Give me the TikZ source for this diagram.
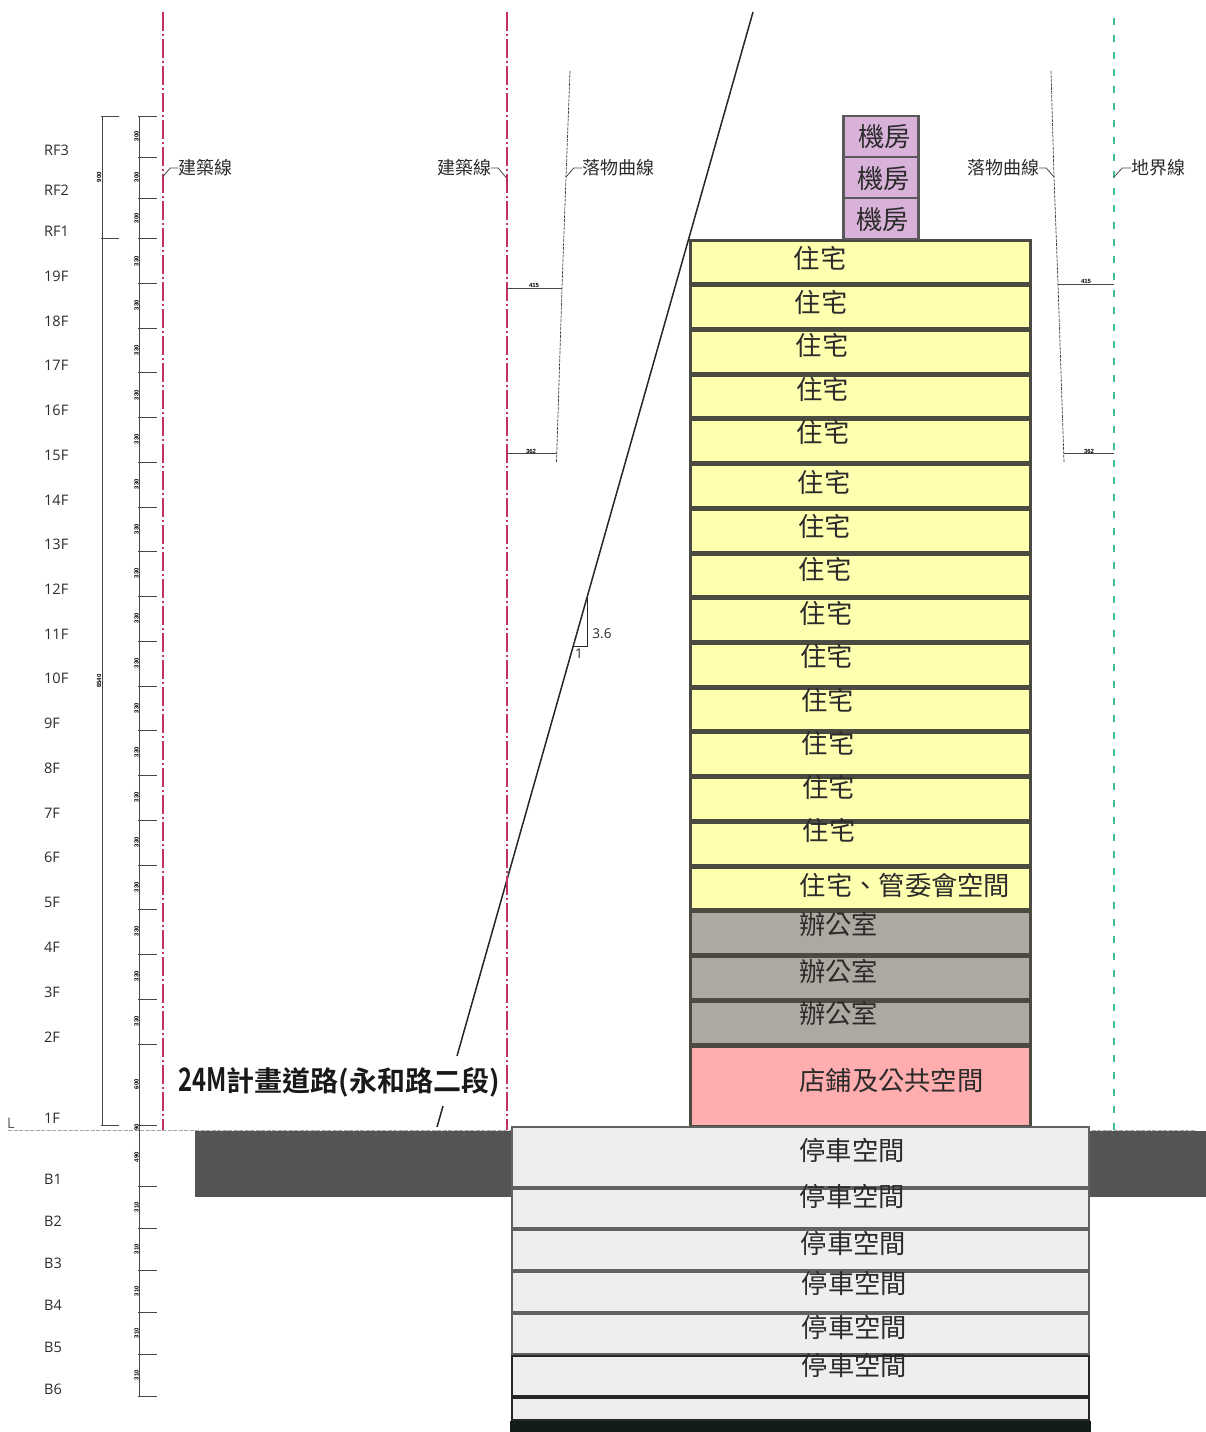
\documentclass[tikz,border=0pt]{standalone}
\usepackage{xcolor}
\usepackage{fontspec}
\usepackage{tikz}
\setmainfont{Open Sans}
\newfontfamily\cjk[BoldFont=Noto Sans CJK TC Bold]{Noto Sans CJK TC}
\newfontfamily\dimfont{Liberation Sans}
\definecolor{redline}{HTML}{C4305F}
\definecolor{greenline}{HTML}{3FBF92}
\definecolor{wallcol}{HTML}{4A4A40}
\definecolor{inkcol}{HTML}{2B2B2B}
\definecolor{yellowcol}{HTML}{FFFFB0}
\definecolor{purplecol}{HTML}{D8B2D8}
\definecolor{officecol}{HTML}{ADA9A0}
\definecolor{pinkcol}{HTML}{FFADAE}
\definecolor{parkcol}{HTML}{EEEEEE}
\definecolor{soilcol}{HTML}{545454}
\definecolor{slabcol}{HTML}{141C18}
\tikzset{
  band/.style = {rectangle, draw=wallcol, line width=3pt, inner sep=0pt, minimum width=340pt},
  roombox/.style = {rectangle, draw=black!65, line width=2.4pt, fill=purplecol, inner sep=0pt, minimum width=75pt, minimum height=41pt},
  parkbox/.style = {rectangle, draw=black!62, line width=2.6pt, fill=parkcol, inner sep=0pt, minimum width=577pt},
  roomlabel/.style = {text=inkcol, inner sep=0pt, font=\cjk\fontsize{26.3}{27}\selectfont},
  leaderlabel/.style = {text=inkcol, inner sep=0pt, font=\cjk\fontsize{18}{18}\selectfont},
  floorlabel/.style = {anchor=west, text=inkcol, inner sep=0pt, font=\fontsize{14.5}{15}\selectfont},
  dimlabel/.style = {text=black, inner sep=0pt, font=\dimfont\bfseries\fontsize{6}{6}\selectfont},
  dimline/.style = {draw=black!72, line width=0.8pt},
  curveline/.style = {draw=black!75, line width=0.7pt, dash pattern=on 3pt off 1pt},
  redaxis/.style = {draw=redline, line width=2pt, dash pattern=on 19pt off 3pt on 2pt off 3pt},
  greenaxis/.style = {draw=greenline, line width=2.4pt, dash pattern=on 7pt off 10pt},
}
\begin{document}
\begin{tikzpicture}[x=1pt, y=-1pt]
    \useasboundingbox (0,0) rectangle (1206,1432);
    % ground and setback line
    \fill[soilcol] (195,1131) rectangle (511,1197);
    \fill[soilcol] (1090,1131) rectangle (1206,1197);
    \draw[black!35, line width=0.6pt, dash pattern=on 4pt off 1.5pt] (8,1130) -- (1196,1130);
    \draw[black!85, line width=1.5pt] (753,12) -- (457,1056);
    \draw[black!85, line width=1.5pt] (443,1106) -- (437,1127);
    \draw[black!85, line width=0.8pt] (587,597) -- (587,646) -- (574,646);
    \draw[redaxis] (162.5,12) -- (162.5,1130);
    \draw[redaxis] (506.5,12) -- (506.5,1130);
    \draw[greenaxis] (1114,18) -- (1114,1130);
    \draw[curveline] (570,71) -- (566,177) -- (562,288) -- (556.5,462);
    \draw[curveline] (1051,71) -- (1054,177) -- (1058,284) -- (1064,462);
    % tower
    \begin{scope}[every node/.append style = {fill=yellowcol}]
        \node[band, minimum height=43pt] (f19) at (860.5,261.5) {};
        \node[band, minimum height=43pt] (f18) at (860.5,306.5) {};
        \node[band, minimum height=43pt] (f17) at (860.5,351.5) {};
        \node[band, minimum height=42pt] (f16) at (860.5,396) {};
        \node[band, minimum height=43pt] (f15) at (860.5,440.5) {};
        \node[band, minimum height=43pt] (f14) at (860.5,485.5) {};
        \node[band, minimum height=43pt] (f13) at (860.5,530.5) {};
        \node[band, minimum height=42pt] (f12) at (860.5,575) {};
        \node[band, minimum height=43pt] (f11) at (860.5,619.5) {};
        \node[band, minimum height=43pt] (f10) at (860.5,664.5) {};
        \node[band, minimum height=42pt] (f9) at (860.5,709) {};
        \node[band, minimum height=43pt] (f8) at (860.5,753.5) {};
        \node[band, minimum height=43pt] (f7) at (860.5,798.5) {};
        \node[band, minimum height=43pt] (f6) at (860.5,843.5) {};
        \node[band, minimum height=42pt] (f5) at (860.5,888) {};
    \end{scope}
    \begin{scope}[every node/.append style = {fill=officecol}]
        \node[band, minimum height=43pt] (f4) at (860.5,932.5) {};
        \node[band, minimum height=43pt] (f3) at (860.5,977.5) {};
        \node[band, minimum height=43pt] (f2) at (860.5,1022.5) {};
    \end{scope}
    \node[band, fill=pinkcol, minimum height=80pt] (f1) at (860.5,1086) {};
    \node[roombox] (rf3) at (881,136.5) {};
    \node[roombox] (rf2) at (881,177.5) {};
    \node[roombox] (rf1) at (881,218.5) {};
    % basement
    \node[parkbox, minimum height=60pt] (b1) at (800.5,1157) {};
    \node[parkbox, minimum height=39pt] (b2) at (800.5,1208.5) {};
    \node[parkbox, minimum height=40pt] (b3) at (800.5,1250) {};
    \node[parkbox, minimum height=40pt] (b4) at (800.5,1292) {};
    \node[parkbox, minimum height=40pt] (b5) at (800.5,1334) {};
    \node[parkbox, draw=black!85, minimum height=40pt] (b6) at (800.5,1376) {};
    \node[parkbox, draw=black!85, minimum height=23pt] (b7) at (800.5,1409) {};
    \fill[slabcol] (510,1421) rectangle (1091,1432);
    % room names
    \node[roomlabel] (trf3) at (884.5,136.5) {機房};
    \node[roomlabel] (trf2) at (883.5,178.5) {機房};
    \node[roomlabel] (trf1) at (882.5,219.5) {機房};
    \node[roomlabel] (t19) at (820,258.5) {住宅};
    \node[roomlabel] (t18) at (821,302.5) {住宅};
    \node[roomlabel] (t17) at (822,345.5) {住宅};
    \node[roomlabel] (t16) at (822.5,389.5) {住宅};
    \node[roomlabel] (t15) at (823,432.5) {住宅};
    \node[roomlabel] (t14) at (824,482.5) {住宅};
    \node[roomlabel] (t13) at (824.5,526.5) {住宅};
    \node[roomlabel] (t12) at (825,569.5) {住宅};
    \node[roomlabel] (t11) at (826,613.5) {住宅};
    \node[roomlabel] (t10) at (826.5,656.5) {住宅};
    \node[roomlabel] (t9) at (827.5,700.5) {住宅};
    \node[roomlabel] (t8) at (828,743.5) {住宅};
    \node[roomlabel] (t7) at (828.5,787.5) {住宅};
    \node[roomlabel] (t6) at (829,830.5) {住宅};
    \node[roomlabel] (t5) at (905,885.5) {住宅、管委會空間};
    \node[roomlabel] (t4) at (838.5,924.5) {辦公室};
    \node[roomlabel] (t3) at (838.5,971.5) {辦公室};
    \node[roomlabel] (t2) at (838.5,1013.5) {辦公室};
    \node[roomlabel] (t1) at (891.5,1081) {店鋪及公共空間};
    \node[roomlabel] (tb1) at (852,1150.5) {停車空間};
    \node[roomlabel] (tb2) at (852.5,1196.5) {停車空間};
    \node[roomlabel] (tb3) at (853.5,1243.5) {停車空間};
    \node[roomlabel] (tb4) at (854.5,1283.5) {停車空間};
    \node[roomlabel] (tb5) at (854.5,1327.5) {停車空間};
    \node[roomlabel] (tb6) at (854.5,1365.5) {停車空間};
    \node[text=black!90, inner sep=0pt, font=\cjk\bfseries\fontsize{28}{29}\selectfont] (road) at (339,1082) {\scalebox{0.85}[1.15]{24M}計畫道路(永和路二段)};
    % leaders
    \node[leaderlabel] (lineA) at (205.5,168) {建築線};
    \node[leaderlabel] (lineB) at (464,168) {建築線};
    \node[leaderlabel] (dropA) at (618,168) {落物曲線};
    \node[leaderlabel] (dropB) at (1003,168) {落物曲線};
    \node[leaderlabel] (lineC) at (1158.5,168) {地界線};
    \coordinate (lineAend) at (162.5,177);
    \coordinate (lineBend) at (506.5,178);
    \coordinate (dropAend) at (566,177);
    \coordinate (dropBend) at (1054,177);
    \coordinate (lineCend) at (1114,177);
    \draw[dimline] (lineA.west) -- ++(-8,0) -- (lineAend);
    \draw[dimline] (lineB.east) -- ++(7,0) -- (lineBend);
    \draw[dimline] (dropA.west) -- ++(-8,0) -- (dropAend);
    \draw[dimline] (dropB.east) -- ++(7,0) -- (dropBend);
    \draw[dimline] (lineC.west) -- ++(-9,0) -- (lineCend);
    % offsets to the drop curve
    \draw[dimline] (506.5,288) -- (562,288);
    \draw[dimline] (506.5,453) -- (557,453);
    \draw[dimline] (1058,284) -- (1114,284);
    \draw[dimline] (1064,453) -- (1114,453);
    \node[dimlabel] (offA) at (534,285) {415};
    \node[dimlabel] (offB) at (531,451) {362};
    \node[dimlabel] (offC) at (1086,281) {415};
    \node[dimlabel] (offD) at (1089,451) {362};
    \node[inner sep=0pt, text=inkcol, font=\fontsize{13.5}{14}\selectfont] (slopeA) at (602,634) {3.6};
    \node[inner sep=0pt, text=inkcol, font=\fontsize{13.5}{14}\selectfont] (slopeB) at (579,654) {1};
    % height scale
    \draw[dimline] (102,116) -- (102,1125);
    \draw[dimline] (101,116) -- (119,116) (101,238) -- (119,238) (101,1125) -- (119,1125);
    \draw[dimline] (139.5,116) -- (139.5,1397);
    \draw[dimline] (138,116) -- (157,116) (138,157) -- (157,157) (138,198) -- (157,198)
        (138,238) -- (157,238) (138,283) -- (157,283) (138,328) -- (157,328)
        (138,372) -- (157,372) (138,417) -- (157,417) (138,462) -- (157,462)
        (138,507) -- (157,507) (138,551) -- (157,551) (138,596) -- (157,596)
        (138,641) -- (157,641) (138,686) -- (157,686) (138,730) -- (157,730)
        (138,775) -- (157,775) (138,820) -- (157,820) (138,865) -- (157,865)
        (138,909) -- (157,909) (138,954) -- (157,954) (138,999) -- (157,999)
        (138,1044) -- (157,1044) (138,1125) -- (157,1125) (138,1186) -- (157,1186)
        (138,1228) -- (157,1228) (138,1270) -- (157,1270) (138,1312) -- (157,1312)
        (138,1354) -- (157,1354) (138,1396) -- (157,1396);
    \begin{scope}[every node/.append style = {rotate=90}]
        \node[dimlabel] (dimTop) at (99,177) {900};
        \node[dimlabel] (dimAll) at (99,681) {6540};
        \node[dimlabel] (dR3) at (136.5,136) {300};
        \node[dimlabel] (dR2) at (136.5,177) {300};
        \node[dimlabel] (dR1) at (136.5,218) {300};
        \node[dimlabel] (d19) at (136.5,261) {330};
        \node[dimlabel] (d18) at (136.5,305) {330};
        \node[dimlabel] (d17) at (136.5,350) {330};
        \node[dimlabel] (d16) at (136.5,395) {330};
        \node[dimlabel] (d15) at (136.5,439) {330};
        \node[dimlabel] (d14) at (136.5,484) {330};
        \node[dimlabel] (d13) at (136.5,529) {330};
        \node[dimlabel] (d12) at (136.5,573) {330};
        \node[dimlabel] (d11) at (136.5,618) {330};
        \node[dimlabel] (d10) at (136.5,663) {330};
        \node[dimlabel] (d9) at (136.5,708) {330};
        \node[dimlabel] (d8) at (136.5,752) {330};
        \node[dimlabel] (d7) at (136.5,797) {330};
        \node[dimlabel] (d6) at (136.5,842) {330};
        \node[dimlabel] (d5) at (136.5,887) {330};
        \node[dimlabel] (d4) at (136.5,931) {330};
        \node[dimlabel] (d3) at (136.5,976) {330};
        \node[dimlabel] (d2) at (136.5,1021) {330};
        \node[dimlabel] (d1) at (136.5,1084) {600};
        \node[dimlabel] (d0) at (136.5,1127.5) {90};
        \node[dimlabel] (dB1) at (136.5,1157) {490};
        \node[dimlabel] (dB2) at (136.5,1207) {310};
        \node[dimlabel] (dB3) at (136.5,1249) {310};
        \node[dimlabel] (dB4) at (136.5,1291) {310};
        \node[dimlabel] (dB5) at (136.5,1333) {310};
        \node[dimlabel] (dB6) at (136.5,1375) {310};
    \end{scope}
    % floor names
    \node[floorlabel] (nR3) at (44,150) {RF3};
    \node[floorlabel] (nR2) at (44,190) {RF2};
    \node[floorlabel] (nR1) at (44,231) {RF1};
    \node[floorlabel] (n19) at (44,276) {19F};
    \node[floorlabel] (n18) at (44,321) {18F};
    \node[floorlabel] (n17) at (44,365.5) {17F};
    \node[floorlabel] (n16) at (44,410) {16F};
    \node[floorlabel] (n15) at (44,455) {15F};
    \node[floorlabel] (n14) at (44,500) {14F};
    \node[floorlabel] (n13) at (44,544.5) {13F};
    \node[floorlabel] (n12) at (44,589) {12F};
    \node[floorlabel] (n11) at (44,634) {11F};
    \node[floorlabel] (n10) at (44,678.5) {10F};
    \node[floorlabel] (n9) at (44,723) {9F};
    \node[floorlabel] (n8) at (44,768) {8F};
    \node[floorlabel] (n7) at (44,813) {7F};
    \node[floorlabel] (n6) at (44,857.5) {6F};
    \node[floorlabel] (n5) at (44,902) {5F};
    \node[floorlabel] (n4) at (44,947) {4F};
    \node[floorlabel] (n3) at (44,992) {3F};
    \node[floorlabel] (n2) at (44,1037) {2F};
    \node[floorlabel] (n1) at (44,1118) {1F};
    \node[floorlabel] (nB1) at (44,1179) {B1};
    \node[floorlabel] (nB2) at (44,1221) {B2};
    \node[floorlabel] (nB3) at (44,1263) {B3};
    \node[floorlabel] (nB4) at (44,1305) {B4};
    \node[floorlabel] (nB5) at (44,1347) {B5};
    \node[floorlabel] (nB6) at (44,1389) {B6};
    \node[floorlabel, text=black!65] (level) at (7,1123) {L};
\end{tikzpicture}
\end{document}
